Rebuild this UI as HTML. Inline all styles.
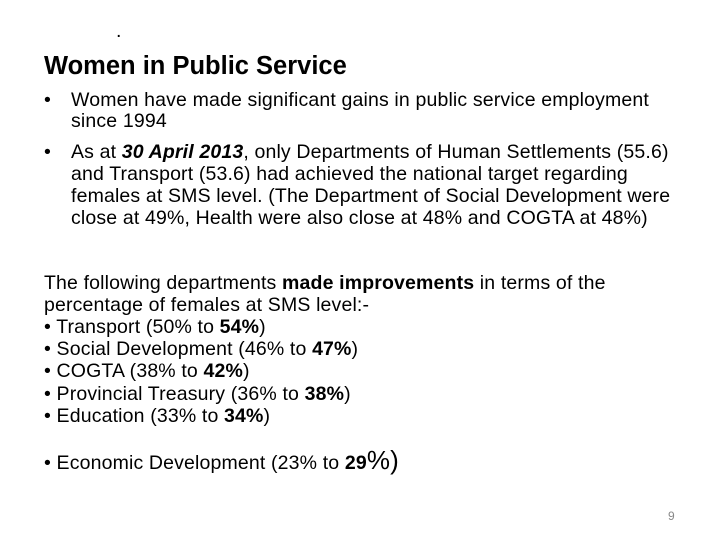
<!DOCTYPE html>
<html><head><meta charset="utf-8"><style>
body{margin:0;width:720px;height:540px;background:#fff;position:relative;overflow:hidden;font-family:"Liberation Sans",sans-serif;color:#000}
.l{position:absolute;white-space:nowrap;font-size:19.5px;line-height:22px;letter-spacing:0.15px}
</style></head><body>
<div class="l" style="left:116px;top:20px">.</div>
<div class="l" style="left:44px;top:51px;font-size:25.5px;font-weight:bold;line-height:30px;letter-spacing:0">Women in Public Service</div>
<div>
<div class="l" style="left:44px;top:89px">•</div>
<div class="l" style="left:71px;top:89px">Women have made significant gains in public service employment</div>
<div class="l" style="left:71px;top:110px">since 1994</div>
<div class="l" style="left:44px;top:141px">•</div>
<div class="l" style="left:71px;top:141px">As at <b><i>30 April 2013</i></b>, only Departments of Human Settlements (55.6)</div>
<div class="l" style="left:71px;top:163px">and Transport (53.6) had achieved the national target regarding</div>
<div class="l" style="left:71px;top:185px">females at SMS level. (The Department of Social Development were</div>
<div class="l" style="left:71px;top:207px">close at 49%, Health were also close at 48% and COGTA at 48%)</div>
</div>
<div>
<div class="l" style="left:44px;top:272px">The following departments <b>made improvements</b> in terms of the</div>
<div class="l" style="left:44px;top:294px">percentage of females at SMS level:-</div>
<div class="l" style="left:44px;top:316px">• Transport (50% to <b>54%</b>)</div>
<div class="l" style="left:44px;top:338px">• Social Development (46% to <b>47%</b>)</div>
<div class="l" style="left:44px;top:360px">• COGTA (38% to <b>42%</b>)</div>
<div class="l" style="left:44px;top:383px">• Provincial Treasury (36% to <b>38%</b>)</div>
<div class="l" style="left:44px;top:405px">• Education (33% to <b>34%</b>)</div>
<div class="l" style="left:44px;top:449px">• Economic Development (23% to <b>29</b><span style="font-size:26px">%)</span></div>
</div>
<div class="l" style="left:668px;top:505px;font-size:12px;color:#888">9</div>
</body></html>
